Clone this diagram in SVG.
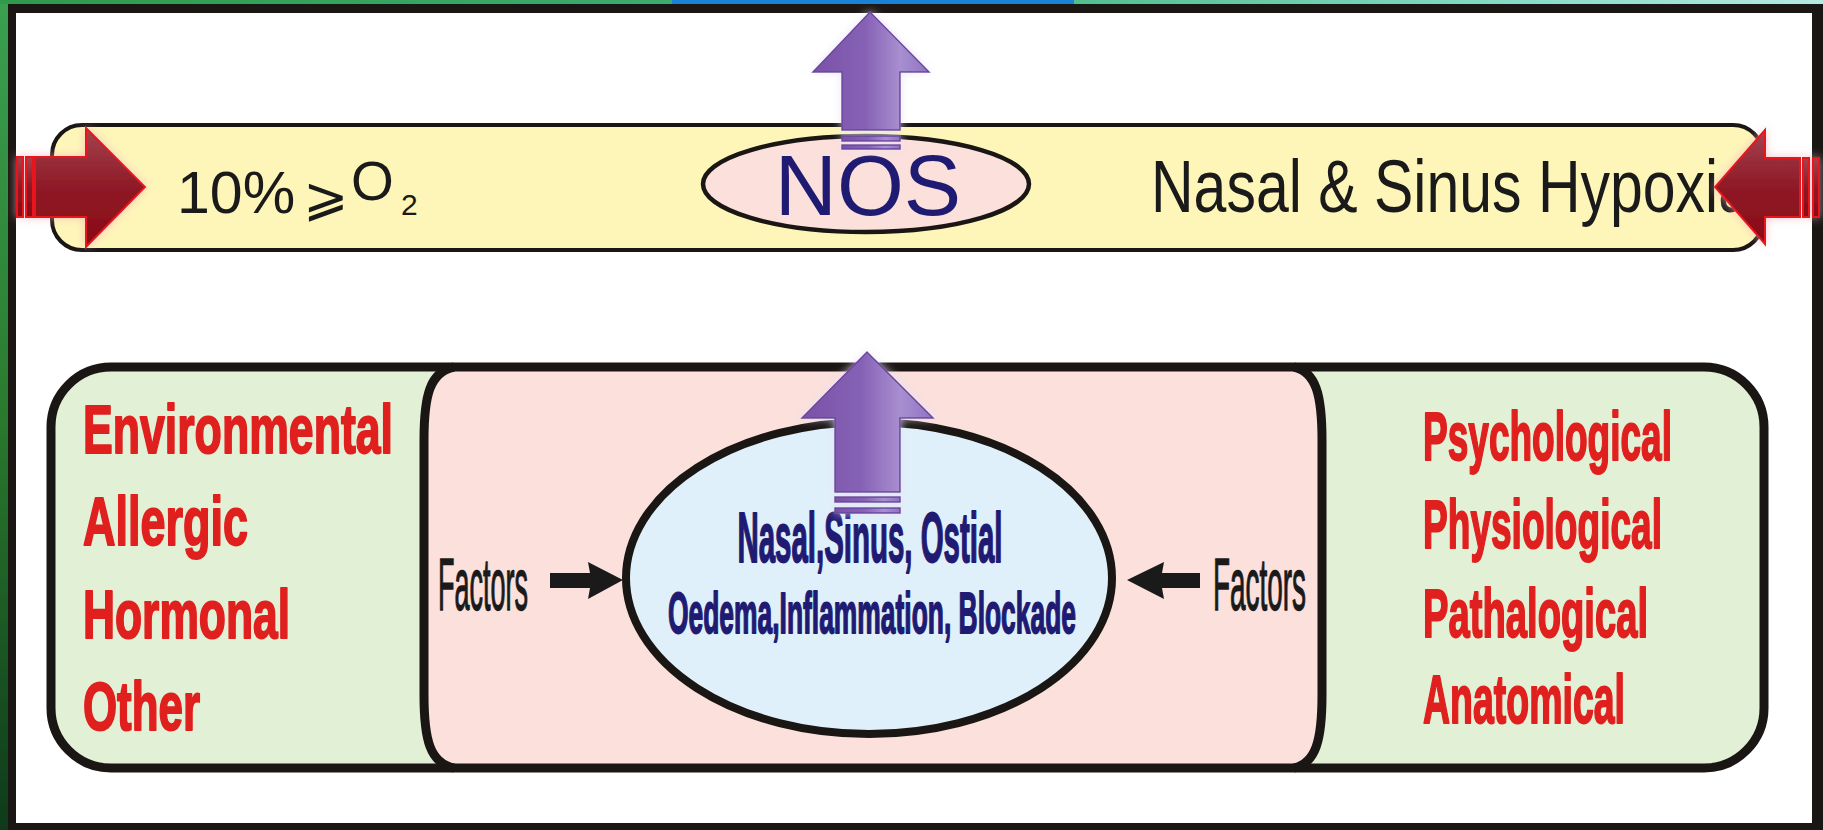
<svg xmlns="http://www.w3.org/2000/svg" width="1823" height="830" viewBox="0 0 1823 830">
<defs>
<style>
.sans{font-family:"Liberation Sans",Arial,sans-serif;fill:#1a1a1a}
.cond{font-family:"Liberation Sans Narrow","Liberation Sans",Arial,sans-serif;font-weight:bold}
.red{fill:#e0201e;stroke:#e0201e;stroke-width:2;stroke-linejoin:round}
.navy{fill:#1f1a72;stroke:#1f1a72;stroke-width:1.8;stroke-linejoin:round}
.fac{font-family:"Liberation Sans Narrow","Liberation Sans",Arial,sans-serif;fill:#1a1a1a;stroke:#1a1a1a;stroke-width:1.4;stroke-linejoin:round}
.blk{fill:#1a1a1a}
.line{stroke:#1a1614;fill:none}
.redArrow{fill:url(#gRed);stroke:#e8141e;stroke-width:2;filter:url(#glowRed)}
.purpArrow{fill:url(#gPurp);stroke:#6a45a0;stroke-width:1.5;filter:url(#glowPurp)}
</style>
<linearGradient id="gTop" x1="0" y1="0" x2="1" y2="0">
<stop offset="0" stop-color="#2f9a4c"/><stop offset="0.5" stop-color="#3fb37a"/><stop offset="0.8" stop-color="#7fd8c0"/><stop offset="1" stop-color="#b4eae2"/>
</linearGradient>
<linearGradient id="gLeft" x1="0" y1="0" x2="0" y2="1">
<stop offset="0" stop-color="#3aa050"/><stop offset="0.5" stop-color="#2a7a2e"/><stop offset="1" stop-color="#0e3a1a"/>
</linearGradient>
<linearGradient id="gRed" x1="0" y1="0" x2="0" y2="1">
<stop offset="0" stop-color="#a4434f"/><stop offset="0.5" stop-color="#8e1a26"/><stop offset="1" stop-color="#8a0a16"/>
</linearGradient>
<linearGradient id="gPurp" x1="0" y1="0" x2="1" y2="0">
<stop offset="0" stop-color="#7a52a8"/><stop offset="0.45" stop-color="#8661b5"/><stop offset="0.75" stop-color="#a88fd0"/><stop offset="1" stop-color="#9073c2"/>
</linearGradient>
<filter id="glowRed" x="-30%" y="-30%" width="160%" height="160%">
<feGaussianBlur in="SourceAlpha" stdDeviation="5" result="b"/>
<feFlood flood-color="#f0b0b8" flood-opacity="0.7"/>
<feComposite in2="b" operator="in" result="g"/>
<feMerge><feMergeNode in="g"/><feMergeNode in="SourceGraphic"/></feMerge>
</filter>
<filter id="glowPurp" x="-30%" y="-30%" width="160%" height="160%">
<feGaussianBlur in="SourceAlpha" stdDeviation="5" result="b"/>
<feFlood flood-color="#e8e0f4" flood-opacity="0.8"/>
<feComposite in2="b" operator="in" result="g"/>
<feMerge><feMergeNode in="g"/><feMergeNode in="SourceGraphic"/></feMerge>
</filter>
</defs>

<g id="background">
<rect x="0" y="0" width="1823" height="830" fill="#1a1614"/>
<rect x="0" y="0" width="8" height="830" fill="url(#gLeft)"/>
<rect x="0" y="0" width="1823" height="4" fill="url(#gTop)"/>
<rect x="672" y="0" width="402" height="4" fill="#1a82d4"/>
<rect x="16" y="13" width="1796" height="810" fill="#ffffff"/>
</g>

<g id="node-band">
<rect x="52" y="125" width="1711" height="125" rx="30" ry="30" fill="#fef6b9" stroke="#1a1614" stroke-width="4"/>
<text class="sans" x="177" y="213" font-size="59">10%</text>
<text x="303" y="215" font-size="54" font-family="DejaVu Sans,'Liberation Sans',sans-serif" fill="#1a1a1a">⩾</text>
<text class="sans" x="351" y="200" font-size="55">O</text>
<text class="sans" x="401" y="215" font-size="30">2</text>
<text class="sans" x="1151" y="212" font-size="74" textLength="600" lengthAdjust="spacingAndGlyphs">Nasal &amp; Sinus Hypoxia</text>
</g>

<g id="node-nos">
<ellipse cx="866" cy="184" rx="163" ry="48" fill="#fbe0dc" stroke="#1a1614" stroke-width="4.5"/>
<text x="868" y="215" font-size="86" text-anchor="middle" font-family="'Liberation Sans',Arial,sans-serif" fill="#1f1a72">NOS</text>
</g>

<g id="node-factors-box">
<rect x="51" y="367" width="1713" height="401" rx="60" ry="60" fill="#e2f0d6"/>
<path d="M452 367 L1296 367 C1316 372 1322 395 1322 440 L1322 695 C1322 740 1316 763 1296 768 L452 768 C430 763 424 740 424 695 L424 440 C424 395 430 372 452 367 Z" fill="#fbe0dc"/>
<path class="line" stroke-width="9" d="M454 367 C430 372 424 395 424 440 L424 695 C424 740 430 763 454 768"/>
<path class="line" stroke-width="9" d="M1294 367 C1316 372 1322 395 1322 440 L1322 695 C1322 740 1316 763 1294 768"/>
<rect x="51" y="367" width="1713" height="401" rx="60" ry="60" class="line" stroke-width="9"/>
</g>

<g id="node-left-list">
<text class="cond red" x="83" y="453" font-size="68" textLength="310" lengthAdjust="spacingAndGlyphs">Environmental</text>
<text class="cond red" x="83" y="545" font-size="68" textLength="165" lengthAdjust="spacingAndGlyphs">Allergic</text>
<text class="cond red" x="83" y="638" font-size="68" textLength="207" lengthAdjust="spacingAndGlyphs">Hormonal</text>
<text class="cond red" x="83" y="730" font-size="68" textLength="117" lengthAdjust="spacingAndGlyphs">Other</text>
</g>

<g id="node-right-list">
<text class="cond red" x="1423" y="460" font-size="68" textLength="249" lengthAdjust="spacingAndGlyphs">Psychological</text>
<text class="cond red" x="1423" y="548" font-size="68" textLength="239" lengthAdjust="spacingAndGlyphs">Physiological</text>
<text class="cond red" x="1423" y="637" font-size="68" textLength="225" lengthAdjust="spacingAndGlyphs">Pathalogical</text>
<text class="cond red" x="1423" y="723" font-size="68" textLength="202" lengthAdjust="spacingAndGlyphs">Anatomical</text>
</g>

<g id="node-factors-left">
<text class="fac" x="438" y="610" font-size="74" textLength="90" lengthAdjust="spacingAndGlyphs">Factors</text>
</g>
<g id="node-factors-right">
<text class="fac" x="1213" y="610" font-size="74" textLength="93" lengthAdjust="spacingAndGlyphs">Factors</text>
</g>

<g id="node-ellipse">
<ellipse cx="869" cy="578" rx="243" ry="156" fill="#e0f0fa" stroke="#1a1614" stroke-width="8"/>
<text class="cond navy" x="870" y="562" font-size="70" text-anchor="middle" textLength="265" lengthAdjust="spacingAndGlyphs">Nasal,Sinus, Ostial</text>
<text class="cond navy" x="872" y="633" font-size="58" text-anchor="middle" textLength="408" lengthAdjust="spacingAndGlyphs">Oedema,Inflammation, Blockade</text>
</g>

<g id="connectors">
<path class="blk" d="M550 573 L590 573 L588 562 L623 580 L588 599 L590 588 L550 588 Z"/>
<path class="blk" d="M1200 573 L1162 573 L1164 562 L1127 580 L1164 599 L1162 588 L1200 588 Z"/>

<g id="arrow-left-red" class="redArrow">
<rect x="17" y="157" width="6" height="60"/>
<rect x="26" y="157" width="7" height="60"/>
<path d="M35 157 L86 157 L86 128 L145 187 L86 247 L86 217 L35 217 Z"/>
</g>
<g id="arrow-right-red" class="redArrow">
<rect x="1813" y="158" width="6" height="59"/>
<rect x="1803" y="158" width="6" height="59"/>
<path d="M1800 158 L1765 158 L1765 130 L1715 187 L1765 244 L1765 217 L1800 217 Z"/>
</g>

<g id="arrow-top-purple" class="purpArrow">
<path d="M842 130 L842 72 L813 72 L870 12 L929 72 L900 72 L900 130 Z"/>
<rect x="842" y="136" width="58" height="5"/>
<rect x="842" y="145" width="58" height="4"/>
</g>
<g id="arrow-inner-purple" class="purpArrow">
<path d="M835 492 L835 418 L802 418 L867 352 L933 418 L900 418 L900 492 Z"/>
<rect x="835" y="497" width="65" height="5"/>
<rect x="835" y="508" width="65" height="5"/>
</g>
</g>
</svg>
